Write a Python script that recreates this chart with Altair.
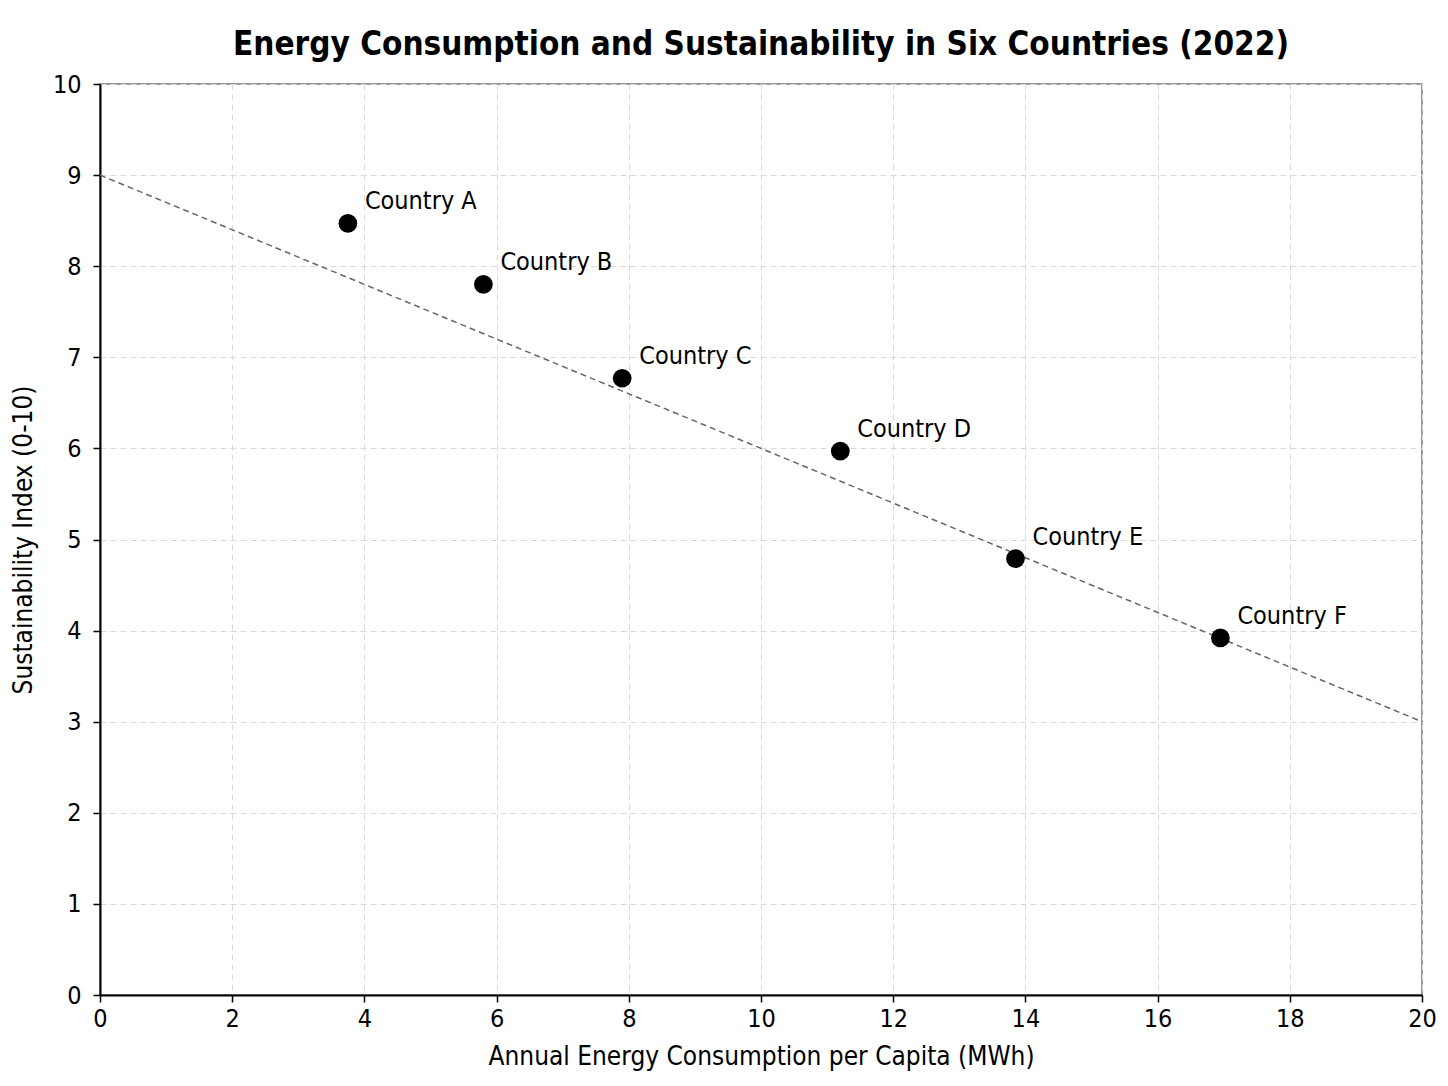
import altair as alt
import pandas as pd

countries = ["Country A", "Country B", "Country C", "Country D", "Country E", "Country F"]
energy = [3.75, 5.8, 7.9, 11.2, 13.85, 16.95]
sustainability = [8.47, 7.8, 6.77, 5.97, 4.79, 3.92]

trend_x = [0, 20]
trend_y = [9, 3]

FONT = "DejaVu Sans Condensed"

points = pd.DataFrame({"country": countries, "energy": energy, "index": sustainability})
trend = pd.DataFrame({"energy": trend_x, "index": trend_y})

x_scale = alt.Scale(domain=[0, 20], nice=False)
y_scale = alt.Scale(domain=[0, 10], nice=False)

x_axis = alt.Axis(
    title="Annual Energy Consumption per Capita (MWh)",
    values=list(range(0, 21, 2)),
    format="d",
    grid=True,
    labelFlush=False,
)
y_axis = alt.Axis(
    title="Sustainability Index (0-10)",
    values=list(range(0, 11)),
    format="d",
    grid=True,
    labelFlush=False,
    labelPadding=12,
)

line = (
    alt.Chart(trend)
    .mark_line(color="#666666", strokeDash=[6, 4], strokeWidth=1.5, clip=True)
    .encode(
        alt.X("energy:Q", scale=x_scale, axis=x_axis),
        alt.Y("index:Q", scale=y_scale, axis=y_axis),
    )
)

dots = (
    alt.Chart(points)
    .mark_circle(color="black", opacity=1, size=350)
    .encode(
        alt.X("energy:Q", scale=x_scale),
        alt.Y("index:Q", scale=y_scale),
    )
)

labels = (
    alt.Chart(points)
    .mark_text(align="left", baseline="bottom", dx=17, dy=-9, fontSize=25, font=FONT, color="black")
    .encode(
        alt.X("energy:Q", scale=x_scale),
        alt.Y("index:Q", scale=y_scale),
        alt.Text("country:N"),
    )
)

chart = (
    (line + dots + labels)
    .properties(
        width=1322,
        height=911,
        autosize=alt.AutoSizeParams(type="none"),
        padding={"left": 92, "top": 76, "right": 16, "bottom": 82},
        title=alt.TitleParams(
            "Energy Consumption and Sustainability in Six Countries (2022)",
            fontSize=33,
            font=FONT,
            fontWeight="bold",
            color="black",
            offset=10,
        ),
    )
    .configure_view(stroke="#777777", strokeWidth=1.5)
    .configure_axis(
        labelFont=FONT,
        titleFont=FONT,
        labelFontSize=25,
        titleFontSize=26,
        titleFontWeight="normal",
        labelColor="black",
        titleColor="black",
        domainColor="black",
        domainWidth=2,
        tickColor="black",
        tickWidth=1.5,
        tickSize=7,
        labelPadding=4,
        gridColor="#d9d9d9",
        gridDash=[6, 4],
        gridWidth=1,
    )
    .configure_axisX(titlePadding=12)
    .configure_axisY(titlePadding=16)
)

chart.save("out.html", embed_options={"renderer": "svg", "actions": False})
